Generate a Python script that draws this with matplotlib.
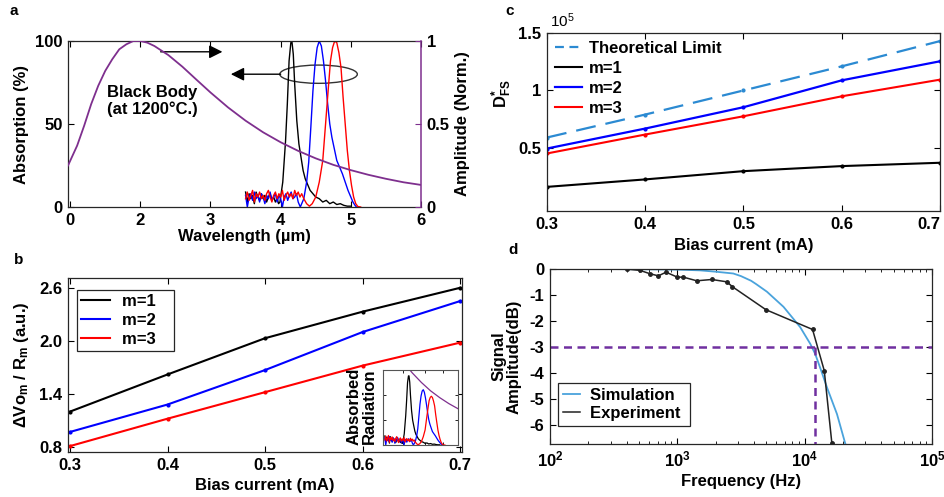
import numpy as np
import matplotlib
matplotlib.use('Agg')
import matplotlib.pyplot as plt
from matplotlib.patches import Ellipse
from matplotlib.lines import Line2D

plt.rcParams['font.family'] = ['Liberation Sans', 'DejaVu Sans']
plt.rcParams['font.weight'] = 'bold'
plt.rcParams['axes.labelweight'] = 'bold'
plt.rcParams['font.size'] = 12
plt.rcParams['mathtext.fontset'] = 'custom'
plt.rcParams['mathtext.rm'] = 'Liberation Sans'
plt.rcParams['mathtext.bf'] = 'Liberation Sans:bold'
plt.rcParams['mathtext.it'] = 'Liberation Sans:italic:bold'
plt.rcParams['mathtext.default'] = 'bf'
plt.rcParams['axes.unicode_minus'] = False

# ---------------- Panel a data ----------------
bb_wl = [0.97, 1.1, 1.2, 1.3, 1.4, 1.5, 1.6, 1.7, 1.8, 1.9, 2.0, 2.1, 2.2, 2.4, 2.6, 2.8,
         3.0, 3.25, 3.5, 3.75, 4.0, 4.25, 4.5, 4.75, 5.0, 5.25, 5.5, 5.75, 6.0]
bb_amp = [0.25, 0.37, 0.49, 0.62, 0.73, 0.82, 0.89, 0.95, 0.98, 1.0, 1.0, 0.99, 0.97, 0.915, 0.845,
          0.767, 0.69, 0.60, 0.52, 0.45, 0.39, 0.338, 0.293, 0.254, 0.222, 0.194, 0.170, 0.149, 0.133]

m1_wl = [3.50, 3.525, 3.55, 3.575, 3.60, 3.625, 3.65, 3.675, 3.70, 3.725, 3.75, 3.775, 3.80, 3.825,
         3.85, 3.875, 3.90, 3.925, 3.95, 3.97, 3.99, 4.03, 4.07, 4.095, 4.12, 4.145, 4.16, 4.18,
         4.20, 4.23, 4.26, 4.29, 4.32, 4.35, 4.38, 4.42, 4.46, 4.50, 4.55, 4.60, 4.65, 4.70, 4.75,
         4.80, 4.85, 4.90, 4.95, 5.00]
m1_abs = [9, 3, 8, 5, 7, 2, 9, 6, 4, 8, 5, 7, 3, 6, 8, 4, 6, 3, 5, 2, 3, 15, 40, 62, 88, 99, 100,
          92, 74, 52, 38, 30, 22, 17, 14, 10, 8, 6, 5, 3, 4, 2, 3, 1.5, 2, 1, 0.5, 0.5]

m2_wl = [3.50, 3.525, 3.55, 3.575, 3.60, 3.625, 3.65, 3.675, 3.70, 3.725, 3.75, 3.775, 3.80, 3.825,
         3.85, 3.875, 3.90, 3.925, 3.95, 3.975, 4.00, 4.025, 4.05, 4.075, 4.10, 4.125, 4.15, 4.175,
         4.20, 4.225, 4.25, 4.28, 4.33, 4.37, 4.40, 4.43, 4.46, 4.49, 4.52, 4.55, 4.58, 4.61, 4.64,
         4.67, 4.70, 4.73, 4.76, 4.80, 4.84, 4.88, 4.92, 4.96, 5.00, 5.03, 5.06, 5.08]
m2_abs = [7, 0, 6, 8, 4, 9, 5, 7, 3, 8, 6, 2, 7, 5, 9, 4, 6, 8, 3, 7, 5, 0, 6, 8, 4, 7, 9, 5, 6, 8,
          3, 0, 5, 15, 27, 48, 70, 86, 96, 100, 97, 88, 76, 62, 50, 42, 36, 28, 24, 20, 15, 10, 6,
          3, 1, 0]

m3_wl = [3.50, 3.525, 3.55, 3.575, 3.60, 3.625, 3.65, 3.675, 3.70, 3.725, 3.75, 3.775, 3.80, 3.825,
         3.85, 3.875, 3.90, 3.925, 3.95, 3.975, 4.00, 4.025, 4.05, 4.075, 4.10, 4.125, 4.15, 4.175,
         4.20, 4.225, 4.25, 4.275, 4.30, 4.33, 4.37, 4.41, 4.45, 4.50, 4.55, 4.60, 4.64, 4.68, 4.71,
         4.74, 4.77, 4.80, 4.83, 4.86, 4.89, 4.92, 4.95, 4.98, 5.01, 5.04, 5.07, 5.10, 5.14]
m3_abs = [5, 9, 4, 7, 10, 3, 8, 6, 9, 5, 7, 4, 8, 10, 6, 3, 7, 9, 5, 8, 6, 10, 4, 7, 9, 6, 8, 5,
          10, 7, 9, 6, 8, 5, 2, 0.5, 2, 6, 15, 28, 50, 72, 88, 96, 100, 99, 93, 84, 66, 50, 34,
          22, 13, 6, 2, 0.3, 0]

wl_ticks = [1, 2, 3, 4, 5, 6]
wl_ticklabels = ['0', '2', '3', '4', '5', '6']

# ---------------- Panel b data ----------------
bias = [0.3, 0.4, 0.5, 0.6, 0.7]
bias_labels = ['0.3', '0.4', '0.5', '0.6', '0.7']
dv_m1 = [1.20, 1.62, 2.03, 2.33, 2.60]
dv_m2 = [0.97, 1.28, 1.67, 2.10, 2.45]
dv_m3 = [0.81, 1.12, 1.42, 1.72, 1.98]

# ---------------- Panel c data ----------------
d_theory = [0.59, 0.79, 1.00, 1.21, 1.43]
d_m1 = [0.16, 0.225, 0.297, 0.341, 0.37]
d_m2 = [0.494, 0.668, 0.854, 1.088, 1.254]
d_m3 = [0.451, 0.616, 0.775, 0.949, 1.094]

# ---------------- Panel d data ----------------
sim_f = [150, 316, 631, 1000, 1514, 1995, 2754, 3162, 3800, 4169, 5058, 6823, 9226, 11066,
         12106, 13490, 14962, 17950, 20840, 21900]
sim_db = [0, 0, -0.01, -0.02, -0.05, -0.10, -0.17, -0.27, -0.45, -0.58, -0.87, -1.45, -2.23,
          -2.87, -3.26, -3.9, -4.54, -5.57, -6.7, -7.0]
exp_f = [401, 509, 611, 710, 816, 1000, 1116, 1422, 1866, 2449, 2712, 4963, 11540, 14260, 16370]
exp_db = [0.0, -0.05, -0.18, -0.26, -0.12, -0.31, -0.31, -0.45, -0.40, -0.49, -0.68, -1.56,
          -2.32, -3.9, -6.7]
cutoff_f = 1.2e4
cutoff_db = -3

# ---------------- styles ----------------
PURPLE = '#7e2f8e'
DPURPLE = '#7030a0'
LBLUE = '#2b8ad2'
SBLUE = '#4aa3dc'
BLUE = '#0000ff'
RED = '#ff0000'

fig = plt.figure(figsize=(9.45, 4.97), dpi=100)


def style(ax, right=True, top=True):
    ax.tick_params(direction='in', top=top, right=right, length=4, width=0.8, pad=4,
                   labelsize=12)
    ax.tick_params(which='minor', direction='in', top=top, right=right, length=2, width=0.6)
    for s in ax.spines.values():
        s.set_linewidth(0.9)
        s.set_color('#262626')


# ================= Panel a =================
axA = fig.add_axes([0.072, 0.5835, 0.3735, 0.334])
axA.plot(m1_wl, m1_abs, color='k', lw=1)
axA.plot(m2_wl, m2_abs, color=BLUE, lw=1)
axA.plot(m3_wl, m3_abs, color=RED, lw=1)
axA.set_xlim(0.97, 6.0)
axA.set_ylim(0, 100)
axA.set_xticks(wl_ticks, wl_ticklabels)
axA.set_yticks([0, 50, 100])
style(axA, right=False)
axA.spines['right'].set_visible(False)
axA.set_xlabel('Wavelength (µm)', labelpad=1)
axA.set_ylabel('Absorption (%)', labelpad=4)

axA2 = axA.twinx()
axA2.plot(bb_wl, bb_amp, color=PURPLE, lw=1.3)
axA2.set_ylim(0, 1)
axA2.set_yticks([0, 0.5, 1], ['0', '0.5', '1'])
axA2.tick_params(axis='y', direction='in', length=4, width=0.8, color=PURPLE, labelsize=12, pad=4)
for k in ['left', 'top', 'bottom']:
    axA2.spines[k].set_visible(False)
axA2.spines['right'].set_color(PURPLE)
axA2.spines['right'].set_linewidth(1.1)
axA2.set_ylabel('Amplitude (Norm.)', labelpad=4)

axA.annotate('', xy=(3.17, 93.5), xytext=(2.29, 93.5),
             arrowprops=dict(arrowstyle='-|>', color='k', lw=1, mutation_scale=20,
                             shrinkA=0, shrinkB=0))
axA.annotate('', xy=(3.29, 80), xytext=(4.0, 80),
             arrowprops=dict(arrowstyle='-|>', color='k', lw=1, mutation_scale=20,
                             shrinkA=0, shrinkB=0))
axA.add_patch(Ellipse((4.54, 80), 1.105, 11, fill=False, edgecolor='#333333', lw=1))
axA.text(1.53, 64, 'Black Body\n(at 1200°C.)', ha='left', va='center', fontsize=12,
         linespacing=1.15)

# ================= Panel b =================
axB = fig.add_axes([0.072, 0.0905, 0.417, 0.350])
axB.plot(bias, dv_m1, color='k', lw=1.5, marker='.', ms=4)
axB.plot(bias, dv_m2, color=BLUE, lw=1.5, marker='.', ms=4)
axB.plot(bias, dv_m3, color=RED, lw=1.5, marker='.', ms=4)
axB.set_xlim(0.298, 0.702)
axB.set_ylim(0.743, 2.71)
axB.set_xticks(bias, bias_labels)
axB.set_yticks([0.8, 1.4, 2.0, 2.6], ['0.8', '1.4', '2.0', '2.6'])
style(axB)
axB.set_xlabel('Bias current (mA)', labelpad=4)
axB.set_ylabel('ΔVo$_{m}$ / R$_{m}$ (a.u.)', labelpad=6)
handlesB = [Line2D([], [], color='k', lw=1.5),
            Line2D([], [], color=BLUE, lw=1.5),
            Line2D([], [], color=RED, lw=1.5)]
legB = axB.legend(handlesB, ['m=1   ', 'm=2   ', 'm=3   '], loc='upper left',
                  bbox_to_anchor=(0.023, 0.931), borderaxespad=0,
                  handlelength=1.75, handletextpad=0.7, labelspacing=0.22, borderpad=0.25,
                  fancybox=False, edgecolor='#262626', framealpha=1, fontsize=12)
legB.get_frame().set_linewidth(0.9)

# inset
axI = fig.add_axes([0.4053, 0.1046, 0.0794, 0.151])
bb_m1 = np.interp(m1_wl, bb_wl, bb_amp)
bb_m2 = np.interp(m2_wl, bb_wl, bb_amp)
bb_m3 = np.interp(m3_wl, bb_wl, bb_amp)
axI.plot(m1_wl, np.array(m1_abs) / 100 * bb_m1, color='k', lw=0.9)
axI.plot(m2_wl, np.array(m2_abs) / 100 * bb_m2, color=BLUE, lw=0.9)
axI.plot(m3_wl, np.array(m3_abs) / 100 * bb_m3, color=RED, lw=0.9)
axI.plot(bb_wl, np.array(bb_amp) * 1.1, color=PURPLE, lw=0.9)
axI.set_xlim(3.45, 5.5)
axI.set_ylim(0, 0.387)
axI.set_xticks([4.0, 4.6, 5.1])
axI.set_yticks([0.13, 0.26])
axI.tick_params(direction='in', top=True, right=True, length=2, width=0.6,
                labelbottom=False, labelleft=False)
for s in axI.spines.values():
    s.set_linewidth(0.8)
    s.set_color('#555555')
fig.text(362 / 945, 1 - 406 / 497, 'Absorbed\nRadiation', rotation=90, ha='center',
         va='center', fontsize=12, linespacing=1.05)

# ================= Panel c =================
axC = fig.add_axes([0.5788, 0.5755, 0.4159, 0.358])
axC.plot(bias, d_theory, color=LBLUE, lw=1.6, dashes=(9, 4.5), marker='.', ms=4)
axC.plot(bias, d_m1, color='k', lw=1.5, marker='.', ms=4)
axC.plot(bias, d_m2, color=BLUE, lw=1.6, marker='.', ms=4)
axC.plot(bias, d_m3, color=RED, lw=1.5, marker='.', ms=4)
axC.set_xlim(0.3, 0.70)
axC.set_ylim(-0.05, 1.5)
axC.set_xticks(bias, bias_labels)
axC.set_yticks([0.5, 1.0, 1.5], ['0.5', '1', '1.5'])
style(axC)
axC.get_xticklabels()[-1].set_horizontalalignment('right')
axC.set_xlabel('Bias current (mA)', labelpad=5)
axC.set_ylabel('D$_{FS}^{*}$')
axC.yaxis.set_label_coords(-0.085, 0.66)
handlesC = [Line2D([], [], color=LBLUE, lw=1.6, dashes=(4, 2.5)),
            Line2D([], [], color='k', lw=1.5),
            Line2D([], [], color=BLUE, lw=1.6),
            Line2D([], [], color=RED, lw=1.5)]
axC.legend(handlesC, ['Theoretical Limit', 'm=1', 'm=2', 'm=3'], loc='upper left',
           bbox_to_anchor=(0.015, 0.965), borderaxespad=0, frameon=False,
           handlelength=1.65, handletextpad=0.4, labelspacing=0.3, borderpad=0.1, fontsize=12)
fig.text(550 / 945, 1 - 27 / 497, '10$^{\\mathregular{5}}$', fontsize=11, fontweight='normal',
         ha='left', va='baseline')

# ================= Panel d =================
axD = fig.add_axes([0.582, 0.1066, 0.4042, 0.352])
axD.plot(sim_f, sim_db, color=SBLUE, lw=1.3)
axD.plot(exp_f, exp_db, color='#222222', lw=1.1, marker='.', ms=5)
axD.set_xscale('log')
axD.set_xlim(1e2, 1e5)
axD.set_ylim(-6.72, 0.0)
axD.axhline(cutoff_db, color=DPURPLE, lw=1.8, dashes=(3.2, 2.2))
axD.plot([cutoff_f, cutoff_f], [cutoff_db, -6.72], color=DPURPLE, lw=1.8, dashes=(3.2, 2.2))
axD.set_xticks([1e2, 1e3, 1e4, 1e5], ['$10^{2}$', '$10^{3}$', '$10^{4}$', '$10^{5}$'])
axD.set_yticks([0, -1, -2, -3, -4, -5, -6], ['0', '-1', '-2', '-3', '-4', '-5', '-6'])
style(axD)
axD.set_xlabel('Frequency (Hz)', labelpad=3)
axD.set_ylabel('Signal\nAmplitude(dB)', linespacing=1.0, labelpad=6)
handlesD = [Line2D([], [], color=SBLUE, lw=1.3), Line2D([], [], color='#222222', lw=1.1)]
legD = axD.legend(handlesD, ['Simulation ', 'Experiment '], loc='upper left',
                  bbox_to_anchor=(0.021, 0.349), borderaxespad=0,
                  handlelength=1.0, handletextpad=0.6, labelspacing=0.2, borderpad=0.3,
                  fancybox=False, edgecolor='#262626', framealpha=1, fontsize=12)
legD.get_frame().set_linewidth(0.9)

# panel letters
fig.text(14 / 945, 1 - 11 / 497, 'a', fontsize=11, ha='center', va='center')
fig.text(19 / 945, 1 - 260 / 497, 'b', fontsize=11, ha='center', va='center')
fig.text(510 / 945, 1 - 11 / 497, 'c', fontsize=11, ha='center', va='center')
fig.text(513 / 945, 1 - 250 / 497, 'd', fontsize=11, ha='center', va='center')

fig.savefig('out.png', dpi=100)
